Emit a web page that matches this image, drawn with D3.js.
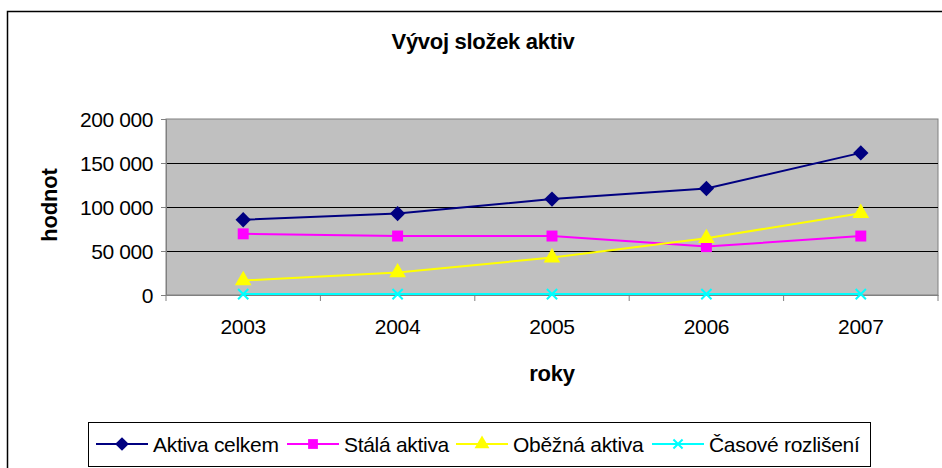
<!DOCTYPE html>
<meta charset="utf-8">
<html>
<head>
<script src="https://d3js.org/d3.v7.min.js"></script>
<style>
    body { margin: 0; background: #fff; font-family: "Liberation Sans", Arial, sans-serif; }
    svg text { fill: #000; }
</style>
</head>
<body>
<svg id="chart"></svg>
<script>

var years = ["2003", "2004", "2005", "2006", "2007"]
var seriesNames = ["Aktiva celkem", "Stálá aktiva", "Oběžná aktiva", "Časové rozlišení"]
var aktivaCelkem = [85500, 92500, 109000, 121000, 161500]
var stalaAktiva = [69500, 67000, 67000, 55000, 67000]
var obeznaAktiva = [16500, 25500, 42500, 64500, 93000]
var casoveRozliseni = [1000, 1000, 1000, 1000, 1000]
var yTicks = [0, 50000, 100000, 150000, 200000]

var colors = ["#000080", "#FF00FF", "#FFFF00", "#00FFFF"]
var symbols = [d3.symbolDiamond2, d3.symbolSquare, d3.symbolTriangle, d3.symbolTimes]

var width = 942, height = 468
var svg = d3.select("#chart").attr("width", width).attr("height", height)

// outer chart frame (right and bottom run off the picture)
svg.append("path")
    .attr("d", "M7.5,468 V11.5 H942")
    .attr("fill", "none")
    .attr("stroke", "#000")
    .attr("stroke-width", 1.5)

var plot = { left: 166, right: 938, top: 119, bottom: 295 }

var x = d3.scaleBand().domain(years).range([plot.left, plot.right])
var y = d3.scaleLinear().domain([0, 200000]).range([plot.bottom, plot.top])

// plot background
svg.append("rect")
    .attr("x", plot.left).attr("y", plot.top)
    .attr("width", plot.right - plot.left).attr("height", plot.bottom - plot.top)
    .attr("fill", "#C0C0C0")
    .attr("stroke", "#808080")

// gridlines
svg.append("g").selectAll("line")
    .data(yTicks.slice(1, -1))
    .enter().append("line")
    .attr("x1", plot.left).attr("x2", plot.right)
    .attr("y1", d => Math.round(y(d)) + 0.5).attr("y2", d => Math.round(y(d)) + 0.5)
    .attr("stroke", "#000")

// y axis
var yAxis = svg.append("g")
    .attr("transform", "translate(" + plot.left + ",0)")
    .call(d3.axisLeft(y).tickValues(yTicks).tickSize(5).tickPadding(8)
        .tickFormat(d => d3.format(",")(d).replace(/,/g, " ")))
yAxis.select(".domain").attr("stroke", "#808080")
yAxis.selectAll(".tick line").attr("stroke", "#808080")
yAxis.selectAll("text")
    .attr("font-size", 21).attr("letter-spacing", -0.4)
    .attr("font-family", "Liberation Sans, Arial, sans-serif")
    .attr("dy", "0.36em")

// x axis, ticks between categories
var xAxis = svg.append("g")
    .attr("transform", "translate(0," + plot.bottom + ")")
    .call(d3.axisBottom(x).tickSize(0).tickPadding(24))
xAxis.select(".domain").attr("stroke", "#808080")
xAxis.selectAll("text")
    .attr("font-size", 21).attr("letter-spacing", -0.3)
    .attr("font-family", "Liberation Sans, Arial, sans-serif")
svg.append("g").selectAll("line")
    .data(years.map(d => x(d)).concat([x.range()[1]]))
    .enter().append("line")
    .attr("x1", d => d).attr("x2", d => d)
    .attr("y1", plot.bottom).attr("y2", plot.bottom + 6)
    .attr("stroke", "#808080")

// titles
svg.append("text")
    .attr("x", 483).attr("y", 49)
    .attr("text-anchor", "middle")
    .attr("font-size", 22).attr("font-weight", "bold").attr("letter-spacing", -0.3)
    .text("Vývoj složek aktiv")

svg.append("text")
    .attr("x", x("2005") + x.bandwidth() / 2).attr("y", 381)
    .attr("text-anchor", "middle")
    .attr("font-size", 22).attr("font-weight", "bold").attr("letter-spacing", -0.3)
    .text("roky")

svg.append("text")
    .attr("transform", "translate(57,205) rotate(-90)")
    .attr("text-anchor", "middle")
    .attr("font-size", 22).attr("font-weight", "bold").attr("letter-spacing", -0.2)
    .text("hodnot")

// series
var data = [aktivaCelkem, stalaAktiva, obeznaAktiva, casoveRozliseni]
var line = d3.line()
    .x((d, i) => x(years[i]) + x.bandwidth() / 2)
    .y(d => y(d))

var symbolSize = [150, 120, 120, 70]

data.forEach(function(vals, s) {
    svg.append("path")
        .datum(vals)
        .attr("d", line)
        .attr("fill", "none")
        .attr("stroke", colors[s])
        .attr("stroke-width", 2)
    svg.append("g").selectAll("path")
        .data(vals)
        .enter().append("path")
        .attr("transform", (d, i) => "translate(" + (x(years[i]) + x.bandwidth() / 2) + "," + y(d) + ")")
        .attr("d", d3.symbol().type(symbols[s]).size(symbolSize[s]))
        .attr("fill", s == 3 ? "none" : colors[s])
        .attr("stroke", colors[s])
        .attr("stroke-width", s == 3 ? 2 : 0)
})

// legend
var legend = svg.append("g")
legend.append("rect")
    .attr("x", 88.5).attr("y", 422.5)
    .attr("width", 782).attr("height", 44)
    .attr("fill", "#fff")
    .attr("stroke", "#000")
var legendX = [96, 287, 456, 652]
seriesNames.forEach(function(name, s) {
    var g = legend.append("g").attr("transform", "translate(" + legendX[s] + ",444)")
    g.append("line")
        .attr("x1", 0).attr("x2", 52)
        .attr("stroke", colors[s]).attr("stroke-width", 2)
    g.append("path")
        .attr("transform", "translate(26,0)")
        .attr("d", d3.symbol().type(symbols[s]).size(symbolSize[s] * 0.8))
        .attr("fill", s == 3 ? "none" : colors[s])
        .attr("stroke", colors[s])
        .attr("stroke-width", s == 3 ? 2 : 0)
    g.append("text")
        .attr("x", 57).attr("y", 7.5)
        .attr("font-size", 21).attr("letter-spacing", -0.3)
        .text(name)
})
</script>
</body>
</html>
